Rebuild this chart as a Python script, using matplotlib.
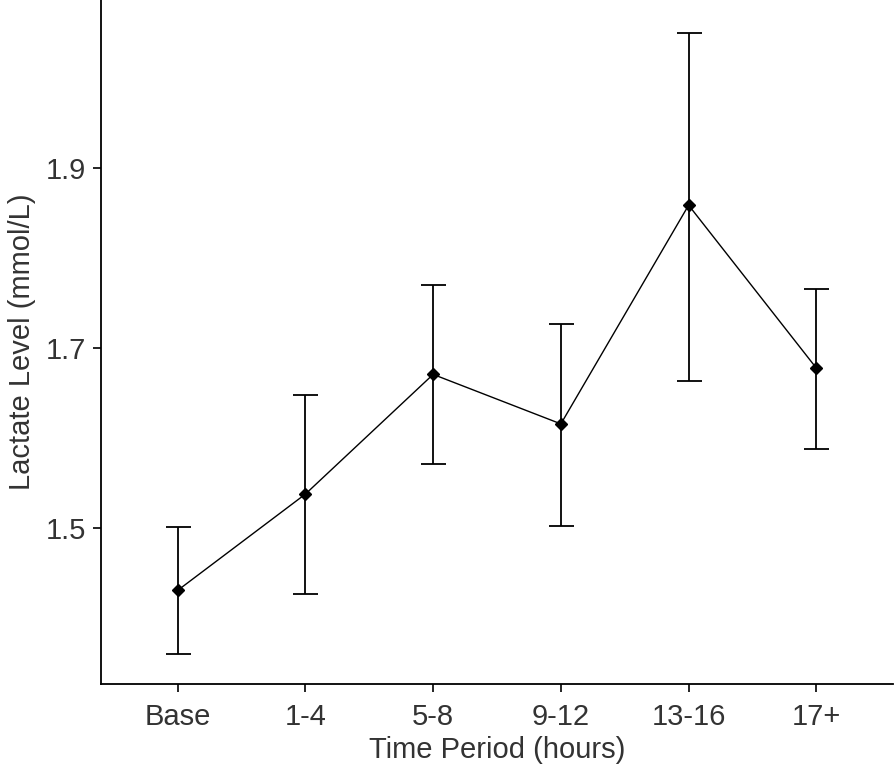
import matplotlib.pyplot as plt
import numpy as np

plt.rcParams['font.family'] = ['Liberation Sans', 'DejaVu Sans']

periods = ['Base', '1-4', '5-8', '9-12', '13-16', '17+']
lactate_mean = [1.431, 1.538, 1.671, 1.616, 1.859, 1.678]
ci_upper = [1.501, 1.648, 1.770, 1.727, 2.050, 1.766]
ci_lower = [1.360, 1.427, 1.572, 1.503, 1.664, 1.588]

x = np.arange(len(periods))
mean = np.array(lactate_mean)
yerr = [mean - np.array(ci_lower), np.array(ci_upper) - mean]

fig = plt.figure(figsize=(8.96, 7.69), dpi=100)
ax = fig.add_axes([101/896, 1 - 684/769, (893 - 101)/896, 684/769])

ax.errorbar(x, mean, yerr=yerr, fmt='none', ecolor='black', elinewidth=1.3,
            capsize=9, capthick=1.3)
ax.plot(x, mean, color='black', linewidth=1.0, marker='D', markersize=6)

ax.set_xlim(-0.6, len(periods) - 0.4)
ax.set_ylim(1.327, 2.087)
ax.set_xticks(x)
ax.set_xticklabels(periods)
ax.set_yticks([1.5, 1.7, 1.9])
ax.set_yticklabels(['1.5', '1.7', '1.9'])

for side in ['top', 'right']:
    ax.spines[side].set_visible(False)
for side in ['left', 'bottom']:
    ax.spines[side].set_linewidth(1.3)

ax.tick_params(axis='both', labelsize=21, colors='black', length=6, width=1.2,
               labelcolor='#333333')
ax.tick_params(axis='x', pad=8)
ax.tick_params(axis='y', pad=5)
ax.set_xlabel('Time Period (hours)', fontsize=21, color='#333333', labelpad=3)
ax.set_ylabel('Lactate Level (mmol/L)', fontsize=21, color='#333333', labelpad=7)

plt.savefig('out.png', dpi=100)
